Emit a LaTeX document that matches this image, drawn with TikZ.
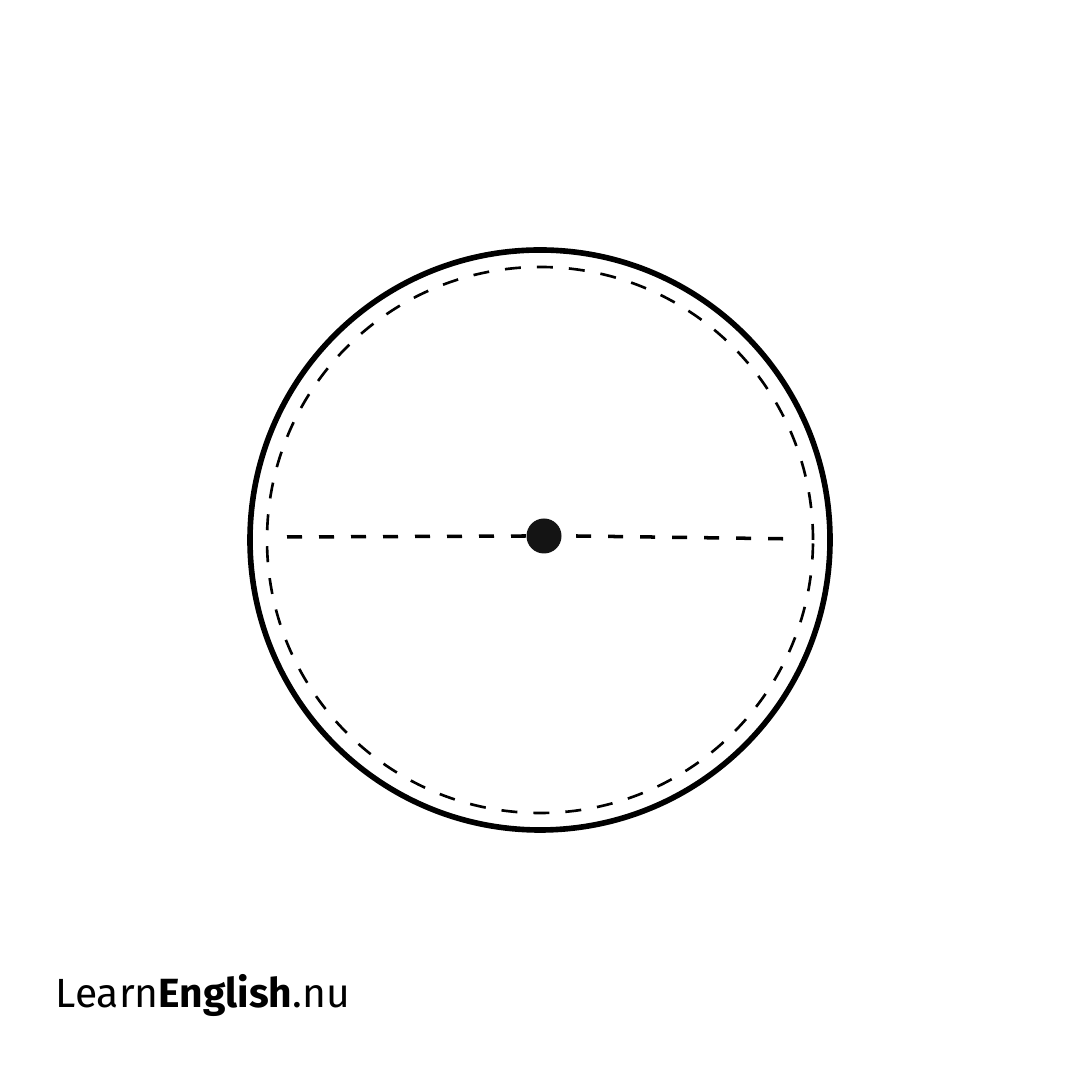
\documentclass[tikz,border=0pt]{standalone}
\usepackage{fontspec}
\setsansfont{Fira Sans}
\usetikzlibrary{positioning}

\begin{document}
\begin{tikzpicture}
		\useasboundingbox (0,0) rectangle (10.8,10.8);
		\coordinate (o) at (5.4,5.4);
		\draw[line width=1.6pt] (o) circle (2.9);
		\draw[line width=0.75pt,dash pattern=on 0.16cm off 0.16cm] (o) circle (2.73);
		\coordinate (l) at (2.87,5.43);
		\coordinate (r) at (8.0,5.41);
		\node[circle,fill=black!92,inner sep=0pt,minimum size=0.35cm] (c) at (5.44,5.44){};
		\draw[line width=1pt,dash pattern=on 0.15cm off 0.17cm] (l)--(c.west);
		\draw[line width=1pt,dash pattern=on 0.15cm off 0.17cm] ([xshift=0.14cm]c.east)--(r);
		\node[anchor=base west,inner sep=0pt,font=\sffamily\fontsize{11.6}{13}\selectfont] (logo) at (0.55,0.72){Learn\textbf{English}.nu};
	\end{tikzpicture}
\end{document}
